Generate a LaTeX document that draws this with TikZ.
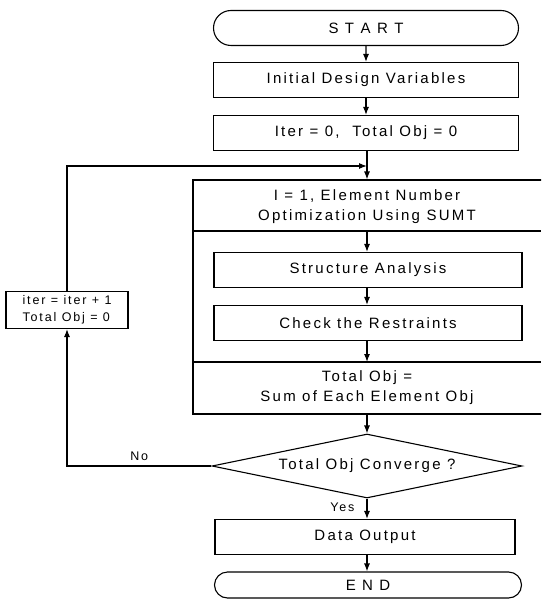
\documentclass[tikz,border=0pt]{standalone}
\usepackage{fontspec}
\setmainfont{Liberation Sans}[LetterSpace=15]
\usetikzlibrary{arrows.meta,shapes.geometric,shapes.misc}

\begin{document}
\begin{tikzpicture}[x=1pt,y=-1pt,line width=1.1pt,>={Latex[length=8pt,width=6pt]},
  font={\fontsize{15}{20}\selectfont},
  box/.style={draw,rectangle,minimum height=35pt,inner sep=0pt},
  term/.style={draw,rounded rectangle,minimum height=35pt,minimum width=305pt,inner sep=0pt}]
  \clip (0,0) rectangle (541,604);

  \node[term] (start) at (366,28) {S T A R T};
  \node[box,minimum width=305pt] (init) at (366,80) {Initial Design Variables};
  \node[box,minimum width=305pt] (iter0) at (366,133) {Iter = 0,\ \ Total Obj = 0};
  \coordinate (join) at (367,166);

  % outer loop over the elements
  \node[draw,rectangle,minimum width=367pt,minimum height=234pt,inner sep=0pt] (elembox) at (376.5,297) {};
  \draw (193,231) -- (541,231);
  \draw (193,362) -- (541,362);
  \coordinate (div1) at (367,231);
  \coordinate (div2) at (367,362);
  \node[align=center] (elem) at (367,207) {I = 1, Element Number\\Optimization Using SUMT};
  \node[box,minimum width=308pt] (struct) at (368,270) {Structure Analysis};
  \node[box,minimum width=308pt] (check) at (368,323) {Check the Restraints};
  \node[align=center] (sum) at (367,388) {Total Obj =\\Sum of Each Element Obj};

  \node[draw,diamond,aspect=4.84,minimum width=310pt,minimum height=64pt,inner sep=0pt] (test) at (367,466) {Total Obj Converge ?};
  \node[box,minimum width=300pt] (output) at (365,537) {Data Output};
  \node[term,minimum height=26pt,minimum width=307pt] (end) at (368,585) {E N D};

  \node[box,minimum width=122pt,minimum height=37pt,align=left,font={\fontsize{12.5}{17}\selectfont}] (next) at (67,310) {iter = iter + 1\\Total Obj = 0};

  \draw[->] (start) -- (init);
  \draw[->] (init) -- (iter0);
  \draw[->] (iter0.south -| join) -- (join |- elembox.north);
  \draw[->] (div1) -- (div1 |- struct.north);
  \draw[->] (struct.south -| div1) -- (check.north -| div1);
  \draw[->] (check.south -| div2) -- (div2);
  \draw[->] (div2 |- elembox.south) -- (test);
  \draw[->] (test) -- node[left,pos=0.45,inner sep=12pt,font={\fontsize{12.5}{15}\selectfont}] {Yes} (test |- output.north);
  \draw[->] (output.south -| test) -- (test |- end.north);
  \draw[->] (test.west) -- node[above,inner sep=5pt,font={\fontsize{12.5}{15}\selectfont}] {No} (next |- test.west) -- (next.south);
  \draw[->] (next.north) -- (next |- join) -- (join);
\end{tikzpicture}
\end{document}
